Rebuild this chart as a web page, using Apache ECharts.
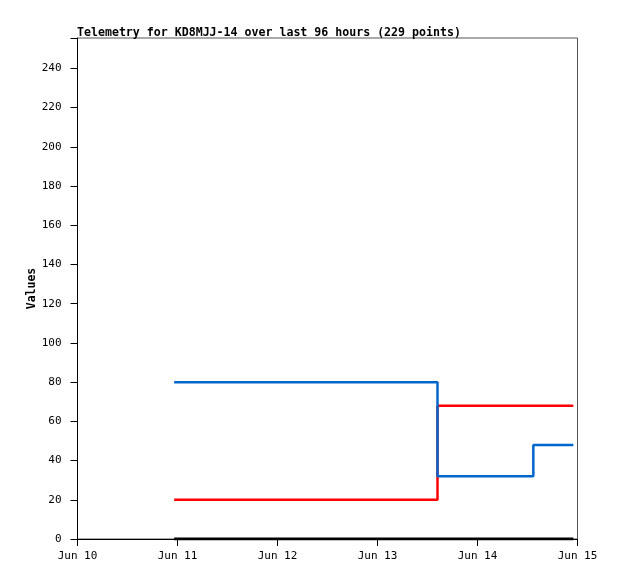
<!DOCTYPE html>
<html><head><meta charset="utf-8">
<script src="https://cdn.jsdelivr.net/npm/echarts@6/dist/echarts.min.js"></script>
<style>html,body{margin:0;padding:0;background:#fff}#c{width:618px;height:579px}</style>
</head><body><div id="c"></div>
<script>
// Times are hours since Jun 10 00:00
var xTickLabels = ['Jun 10','Jun 11','Jun 12','Jun 13','Jun 14','Jun 15'];
var yTicks = [0,20,40,60,80,100,120,140,160,180,200,220,240];
var blueTimes = [23.2, 86.4, 109.4, 119.0];
var blueValues = [80, 32, 48, 48];
var redTimes = [23.2, 86.4, 119.0];
var redValues = [20, 68, 68];
var blackTimes = [23.2, 119.0];
var blackValues = [0, 0];

function zip(t, v){ return t.map(function(x,i){return [x, v[i]];}); }
var font = '"DejaVu Sans Mono", "Liberation Mono", monospace';
var chart = echarts.init(document.getElementById('c'));
chart.setOption({
  animation:false,
  title:{text:'Telemetry for KD8MJJ-14 over last 96 hours (229 points)', left:72, top:22,
    textStyle:{fontFamily:font, fontSize:11.6, fontWeight:'bold', color:'#000'}},
  grid:{left:77.5, right:40.5, top:38, bottom:40, show:true, borderColor:'#555', borderWidth:1},
  xAxis:{type:'value', min:0, max:120, interval:24,
    axisLine:{lineStyle:{color:'#000', width:1}},
    axisTick:{show:true, length:7, lineStyle:{color:'#000'}},
    axisLabel:{fontFamily:font, fontSize:11, color:'#000', margin:12,
      formatter:function(v){ return xTickLabels[Math.round(v/24)]; }},
    splitLine:{show:false}},
  yAxis:{type:'value', min:0, max:255.5, interval:20,
    name:'Values', nameLocation:'middle', nameGap:39, nameMoveOverlap:false,
    nameTextStyle:{fontFamily:font, fontSize:11.5, fontWeight:'bold', color:'#000'},
    axisLine:{show:true, lineStyle:{color:'#000', width:1}},
    axisTick:{show:true, length:7, lineStyle:{color:'#000'}},
    axisLabel:{fontFamily:font, fontSize:11, color:'#000', margin:16,
      formatter:function(v){ return yTicks.indexOf(v)>=0 ? String(v) : ''; }},
    splitLine:{show:false}},
  series:[
    {type:'line', step:'end', data:zip(blackTimes, blackValues), showSymbol:false,
      lineStyle:{color:'#000', width:3}},
    {type:'line', step:'end', data:zip(redTimes, redValues), showSymbol:false,
      lineStyle:{color:'#ff0000', width:2.5}},
    {type:'line', step:'end', data:zip(blueTimes, blueValues), showSymbol:false,
      lineStyle:{color:'#0066cc', width:2.5}}
  ]
});
</script></body></html>
